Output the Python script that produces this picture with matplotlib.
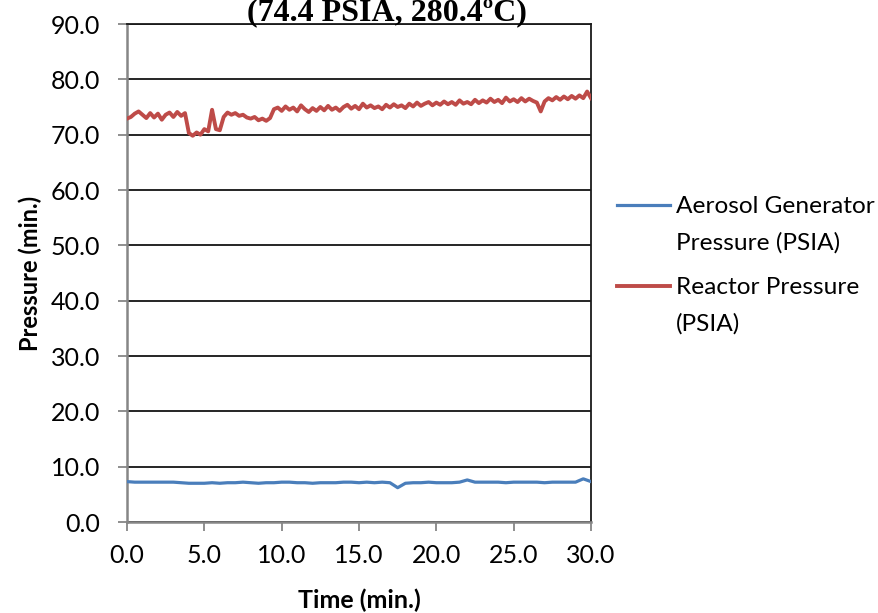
import matplotlib
matplotlib.use("Agg")
import matplotlib.pyplot as plt
from matplotlib.lines import Line2D
from matplotlib.legend_handler import HandlerLine2D
import numpy as np

# Reactor pressure readings (PSIA), one every 0.25 min
reactor_time = np.arange(0, 30.0001, 0.25)
reactor_psia = [
    72.9, 73.2, 73.8, 74.2, 73.6, 73.0, 73.9, 73.1, 73.8, 72.7,
    73.6, 74.0, 73.2, 74.1, 73.4, 73.9, 70.3, 69.8, 70.4, 70.0,
    71.0, 70.6, 74.5, 71.0, 70.8, 73.2, 74.0, 73.6, 73.9, 73.4,
    73.6, 73.1, 72.9, 73.2, 72.6, 72.9, 72.5, 73.0, 74.6, 74.9,
    74.3, 75.1, 74.5, 74.9, 74.2, 75.3, 74.6, 74.1, 74.8, 74.3,
    75.0, 74.4, 75.2, 74.5, 74.9, 74.3, 75.0, 75.4, 74.7, 75.2,
    74.6, 75.6, 74.9, 75.3, 74.8, 75.1, 74.6, 75.4, 74.9, 75.5,
    75.0, 75.3, 74.8, 75.6, 75.1, 75.8, 75.2, 75.6, 75.9, 75.3,
    75.8, 75.4, 76.0, 75.5, 75.9, 75.4, 76.2, 75.6, 75.9, 75.5,
    76.3, 75.7, 76.2, 75.8, 76.5, 75.9, 76.3, 75.7, 76.7, 76.0,
    76.4, 75.9, 76.6, 76.0, 76.5, 76.1, 75.8, 74.2, 76.0, 76.6,
    76.2, 76.8, 76.3, 76.9, 76.4, 77.0, 76.5, 77.1, 76.6, 77.8,
    76.6,
]

# Aerosol generator pressure readings (PSIA), one every 0.5 min
aerosol_time = np.arange(0, 30.0001, 0.5)
aerosol_psia = [
    7.3, 7.2, 7.2, 7.2, 7.2, 7.2, 7.2, 7.1, 7.0, 7.0,
    7.0, 7.1, 7.0, 7.1, 7.1, 7.2, 7.1, 7.0, 7.1, 7.1,
    7.2, 7.2, 7.1, 7.1, 7.0, 7.1, 7.1, 7.1, 7.2, 7.2,
    7.1, 7.2, 7.1, 7.2, 7.1, 6.2, 7.0, 7.1, 7.1, 7.2,
    7.1, 7.1, 7.1, 7.2, 7.6, 7.2, 7.2, 7.2, 7.2, 7.1,
    7.2, 7.2, 7.2, 7.2, 7.1, 7.2, 7.2, 7.2, 7.2, 7.8,
    7.3,
]

series_labels = ["Aerosol Generator\nPressure (PSIA)", "Reactor Pressure\n(PSIA)"]
x_ticks = np.arange(0, 30.1, 5)
y_ticks = np.arange(0, 90.1, 10)
title_line = "(74.4 PSIA, 280.4\u00baC)"

BLUE = "#4A7EBB"
RED = "#BE4B48"
GRAY = "#868686"


class TopLineHandler(HandlerLine2D):
    """Legend line drawn level with the first line of a two-line label."""

    def __init__(self, raise_pts, **kw):
        super().__init__(**kw)
        self.raise_pts = raise_pts

    def create_artists(self, legend, orig_handle, xdescent, ydescent,
                       width, height, fontsize, trans):
        return super().create_artists(legend, orig_handle, xdescent,
                                      ydescent - 2 * self.raise_pts,
                                      width, height, fontsize, trans)


plt.rcParams["font.family"] = ["Lato", "DejaVu Sans"]

fig = plt.figure(figsize=(8.79, 6.13), dpi=100)
ax = fig.add_axes([127 / 879, 1 - 522 / 613, 464 / 879, 498 / 613])

ax.plot(aerosol_time, aerosol_psia, color=BLUE, lw=2.3, label=series_labels[0],
        solid_joinstyle="round", zorder=3)
ax.plot(reactor_time, reactor_psia, color=RED, lw=2.8, label=series_labels[1],
        solid_joinstyle="round", zorder=3)

ax.set_xlim(0, 30)
ax.set_ylim(0, 90)
ax.set_xticks(x_ticks)
ax.set_yticks(y_ticks)
ax.set_xticklabels([f"{v:.1f}" for v in x_ticks])
ax.set_yticklabels([f"{v:.1f}" for v in y_ticks])
ax.tick_params(axis="both", labelsize=18, color=GRAY, length=6.5, width=1.3,
               direction="out")
ax.tick_params(axis="y", pad=13)
ax.tick_params(axis="x", pad=9)

ax.yaxis.grid(True, color="black", lw=1.2, zorder=1)
ax.set_axisbelow(True)
for side in ("top", "right"):
    ax.spines[side].set_color("#1a1a1a")
    ax.spines[side].set_linewidth(1.3)
for side in ("left", "bottom"):
    ax.spines[side].set_color(GRAY)
    ax.spines[side].set_linewidth(1.8)

ax.set_xlabel("Time (min.)", fontsize=18, fontweight="bold", labelpad=16)
ax.set_ylabel("Pressure (min.)", fontsize=17, fontweight="bold", labelpad=6)

leg = ax.legend(loc="center left", bbox_to_anchor=(1.056, 0.516), frameon=False,
                fontsize=17.6, handlelength=2.15, handletextpad=0.25,
                borderpad=0, borderaxespad=0, labelspacing=0.95,
                handler_map={Line2D: TopLineHandler(raise_pts=14.2)})
for t in leg.get_texts():
    t.set_linespacing(1.86)

fig.text(387 / 879, 1 - 20 / 613, title_line, ha="center", va="baseline",
         fontsize=23, fontweight="bold", family=["Liberation Serif", "DejaVu Serif"])

fig.savefig("out.png", dpi=100)
